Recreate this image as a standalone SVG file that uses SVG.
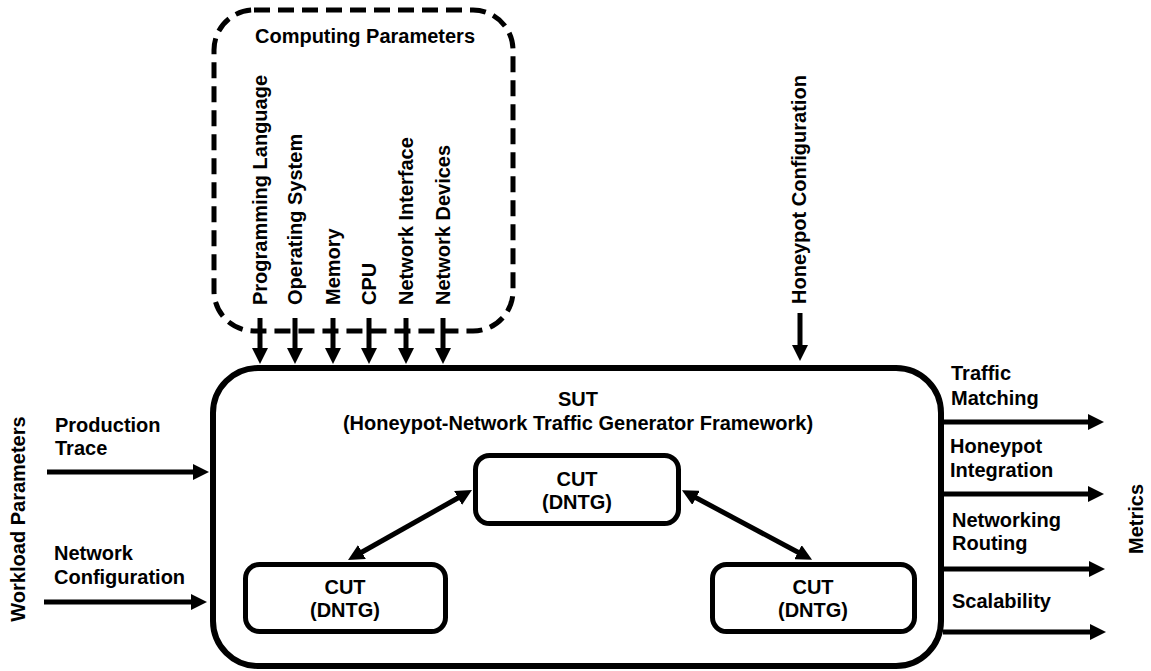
<svg xmlns="http://www.w3.org/2000/svg" width="1151" height="671" viewBox="0 0 1151 671">
<style>
text{font-family:"Liberation Sans",Arial,sans-serif;font-weight:bold;font-size:20px;fill:#000}
.c{text-anchor:middle}
.box{fill:none;stroke:#000;stroke-width:5}
.sut{fill:none;stroke:#000;stroke-width:6}
.dash{fill:none;stroke:#000;stroke-width:5;stroke-dasharray:16 8}
.ar{stroke:#000;stroke-width:5;fill:none;marker-end:url(#ah)}
.dbl{stroke:#000;stroke-width:5;fill:none;marker-end:url(#ah);marker-start:url(#ah)}
</style>
<defs>
<marker id="ah" viewBox="0 0 16 16" refX="8" refY="8" markerWidth="16" markerHeight="16" markerUnits="userSpaceOnUse" orient="auto-start-reverse">
<path d="M0,0 L16,8 L0,16 z" fill="#000"/>
</marker>
</defs>
<rect width="1151" height="671" fill="#fff"/>

<g id="computing-parameters">
<rect class="dash" x="214" y="10" width="299" height="321" rx="40"/>
<text class="c" x="365" y="43">Computing Parameters</text>
<text transform="translate(267,305) rotate(-90)">Programming Language</text>
<text transform="translate(302,305) rotate(-90)">Operating System</text>
<text transform="translate(340,305) rotate(-90)">Memory</text>
<text transform="translate(376,305) rotate(-90)">CPU</text>
<text transform="translate(413,305) rotate(-90)">Network Interface</text>
<text transform="translate(450,305) rotate(-90)">Network Devices</text>
</g>

<g id="honeypot-configuration">
<text transform="translate(806,304) rotate(-90)">Honeypot Configuration</text>
</g>

<g id="sut">
<rect class="sut" x="213" y="368" width="728" height="298" rx="45"/>
<text class="c" x="578" y="406">SUT</text>
<text class="c" x="578" y="430">(Honeypot-Network Traffic Generator Framework)</text>
</g>

<g id="cut-top">
<rect class="box" x="475.5" y="455.5" width="203" height="68" rx="14"/>
<text class="c" x="577" y="486">CUT</text>
<text class="c" x="577" y="509">(DNTG)</text>
</g>

<g id="cut-left">
<rect class="box" x="245.5" y="564.5" width="200" height="67" rx="14"/>
<text class="c" x="345" y="594">CUT</text>
<text class="c" x="345" y="617">(DNTG)</text>
</g>

<g id="cut-right">
<rect class="box" x="712.5" y="564.5" width="202" height="67" rx="14"/>
<text class="c" x="813" y="594">CUT</text>
<text class="c" x="813" y="617">(DNTG)</text>
</g>

<g id="workload-parameters">
<text class="c" transform="translate(25,519) rotate(-90)">Workload Parameters</text>
<text x="55" y="432">Production</text>
<text x="55" y="455">Trace</text>
<text x="54" y="560">Network</text>
<text x="54" y="584">Configuration</text>
</g>

<g id="metrics">
<text class="c" transform="translate(1143,519) rotate(-90)">Metrics</text>
<text x="951" y="380">Traffic</text>
<text x="951" y="405">Matching</text>
<text x="950" y="453">Honeypot</text>
<text x="950" y="477">Integration</text>
<text x="952" y="527">Networking</text>
<text x="952" y="550">Routing</text>
<text x="952" y="608">Scalability</text>
</g>

<g id="connectors">
<line class="ar" x1="260" y1="318" x2="260" y2="356"/>
<line class="ar" x1="295" y1="318" x2="295" y2="356"/>
<line class="ar" x1="333" y1="318" x2="333" y2="356"/>
<line class="ar" x1="369" y1="318" x2="369" y2="356"/>
<line class="ar" x1="406" y1="318" x2="406" y2="356"/>
<line class="ar" x1="443" y1="318" x2="443" y2="356"/>
<line class="ar" x1="800" y1="313" x2="800" y2="353"/>
<line class="ar" x1="47" y1="472" x2="201" y2="472"/>
<line class="ar" x1="44" y1="602" x2="199" y2="602"/>
<line class="ar" x1="943" y1="422" x2="1096" y2="422"/>
<line class="ar" x1="943" y1="494" x2="1096" y2="494"/>
<line class="ar" x1="943" y1="569" x2="1097" y2="569"/>
<line class="ar" x1="943" y1="632" x2="1098" y2="632"/>
<line class="dbl" x1="355" y1="556" x2="465" y2="494"/>
<line class="dbl" x1="689" y1="494" x2="805" y2="556"/>
</g>
</svg>
